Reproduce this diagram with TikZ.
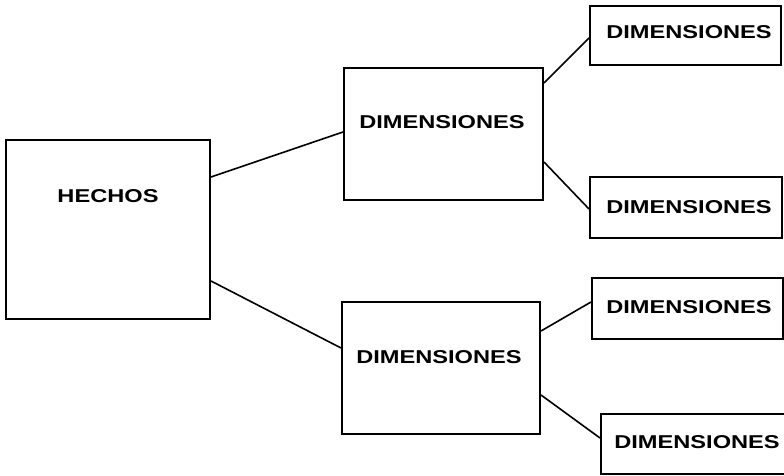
\documentclass[tikz,border=0pt]{standalone}
\usepackage{fontspec}
\setmainfont{Liberation Sans}[FakeStretch=1.27]
\begin{document}
\begin{tikzpicture}[x=1pt,y=-1pt,
  box/.style={draw, line width=2pt, inner sep=0pt},
  lbl/.style={font=\bfseries\fontsize{18.6}{20}\selectfont, inner sep=0pt},
  link/.style={line width=1.6pt}]
\useasboundingbox (0,0) rectangle (784,476);

% boxes
\node[box, minimum width=204pt, minimum height=179pt] (h)  at (108,229.5) {};
\node[box, minimum width=199pt, minimum height=132pt] (mt) at (443.5,134) {};
\node[box, minimum width=198pt, minimum height=132pt] (mb) at (441,368) {};
\node[box, minimum width=191pt, minimum height=59pt]  (r1) at (685.5,35.5) {};
\node[box, minimum width=192pt, minimum height=61pt]  (r2) at (686,207.5) {};
\node[box, minimum width=191pt, minimum height=61pt]  (r3) at (687.5,308.5) {};
\node[box, minimum width=185pt, minimum height=60pt]  (r4) at (693.5,444) {};

% labels
\node[lbl] (th)  at (108,196) {HECHOS};
\node[lbl] (tmt) at (442,122) {DIMENSIONES};
\node[lbl] (tmb) at (439,357) {DIMENSIONES};
\node[lbl] (tr1) at (689,32)  {DIMENSIONES};
\node[lbl] (tr2) at (689,207) {DIMENSIONES};
\node[lbl] (tr3) at (689,307) {DIMENSIONES};
\node[lbl] (tr4) at (697,442) {DIMENSIONES};

% connectors
\draw[link] (h.east |- 0,177) -- (mt.west |- 0,132);
\draw[link] (h.east |- 0,281) -- (mb.west |- 0,348);
\draw[link] (mt.east |- 0,83) -- (r1.west |- 0,38);
\draw[link] (mt.east |- 0,162) -- (r2.west |- 0,209);
\draw[link] (mb.east |- 0,331) -- (r3.west |- 0,302);
\draw[link] (mb.east |- 0,395) -- (r4.west |- 0,438);
\end{tikzpicture}
\end{document}
